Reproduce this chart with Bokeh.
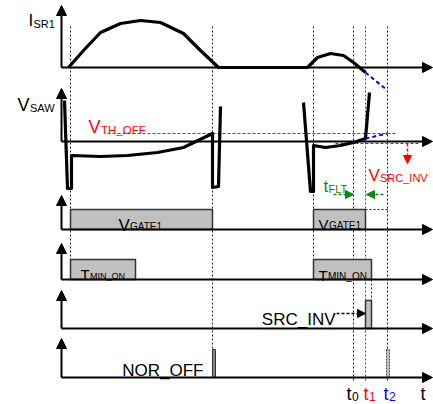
from bokeh.plotting import figure
from bokeh.models import ColumnDataSource, Arrow, NormalHead, Range1d, Label
from bokeh.embed import file_html
from bokeh.resources import INLINE

W, H = 433, 404
FONT = "Liberation Sans"
RED = "#ff0000"
BLUE = "#0000ff"
GREEN = "#118811"
GRAY = "#c0c0c0"

# ---- event instants (horizontal positions) ----
t_start1 = 70
t_end1 = 212
t_start2 = 313
t0 = 353
t1 = 365
t2 = 387
tmin_end1 = 135
tmin_end2 = 371
axis_x = 61
axis_end = 432
top_guide = 26
guide_bottom = 380

# ---- rows: baseline and axis-tip levels ----
row_base = [67, 141, 229, 279, 328, 377]
row_tip = [5, 88, 195, 243, 290, 338]

# ---- I_SR1 waveform ----
isr1_x = [68, 83, 100, 120, 140, 160, 183, 200, 218, 307, 317, 330, 343, 353, 365]
isr1_y = [67, 50, 32, 23, 20, 22, 33, 50, 67, 67, 57, 53, 55, 62, 72]
isr1_ext_x = [365, 387]
isr1_ext_y = [72, 90]

# ---- V_SAW waveform ----
vsaw1_x = [64, 67, 71, 71, 100, 127, 157, 183, 212, 212, 218, 220]
vsaw1_y = [100, 188, 188, 155, 156, 155, 152, 147, 133, 187, 186, 106]
vsaw2_x = [303, 310, 313, 313, 325, 340, 353, 365, 369]
vsaw2_y = [102, 191, 191, 145, 147, 145, 142, 138, 92]
vsaw_ext_x = [365, 387]
vsaw_ext_y = [138, 133]
v_th_off = 133
v_th_off_x = [107, 397]
v_src_inv = 143
v_src_inv_x = [335, 418]
v_src_arrow_x = 407
v_src_arrow_tip = 163

# ---- logic signals ----
gate_left = [t_start1, t_start2]
gate_right = [t_end1, t1]
gate_top = 209
tmin_left = [t_start1, t_start2]
tmin_right = [tmin_end1, tmin_end2]
tmin_top = 259
src_left = [t1]
src_right = [tmin_end2]
src_top = 300
nor_left = [t_end1]
nor_right = [t_end1 + 3]
nor_top = 349
nor2_left = [t2 - 1]
nor2_right = [t2 + 2]

# ---- labels: main letter + subscript ----
main_text = ["I", "V", "V", "V", "V", "T", "T", "V", "t", "t", "t", "t", "t"]
main_x = [28, 17, 88, 118, 318, 80, 318, 368, 323, 346, 363, 383, 420]
main_y = [20, 104, 126, 225, 224, 274, 275, 175, 186, 393, 393, 393, 393]
main_size = ["17px", "18px", "18px", "17px", "15px", "15px", "15px", "17px", "17px",
             "18px", "18px", "18px", "18px"]
main_color = ["black", "black", RED, "black", "black", "black", "black", RED, GREEN,
              "black", RED, BLUE, "black"]
sub_text = ["SR1", "SAW", "TH_OFF", "GATE1", "GATE1", "MIN_ON", "MIN_ON", "SRC_INV",
            "FLT", "0", "1", "2"]
sub_x = [33, 29.5, 100.5, 129.5, 328.5, 89.5, 327.5, 379.5, 328, 351.5, 368.5, 388.5]
sub_y = [23, 107, 129, 226, 225, 275, 276, 177, 188, 396, 396, 396]
sub_size = ["11px", "11px", "11.5px", "10px", "10px", "9px", "10px", "11px", "11px",
            "12px", "12px", "12px"]
sub_color = ["black", "black", RED, "black", "black", "black", "black", RED, GREEN,
             "black", RED, BLUE]
right_text = ["SRC_INV", "NOR_OFF"]
right_x = [335, 203]
right_y = [319, 370]

p = figure(width=W, height=H, output_backend="svg", toolbar_location=None,
           x_range=Range1d(0, W), y_range=Range1d(H, 0),
           x_axis_type=None, y_axis_type=None, min_border=0)
p.grid.visible = False
p.outline_line_color = None
p.background_fill_color = "white"
p.border_fill_color = "white"

# guide lines (dotted verticals)
p.segment(x0=[t_start1, t_end1, t_start2, t0], y0=[top_guide] * 4,
          x1=[t_start1, t_end1, t_start2, t0],
          y1=[tmin_top, nor_top, tmin_top, guide_bottom],
          line_color="#222222", line_width=1, line_dash="2 2")
p.segment(x0=[tmin_end2], y0=[row_base[3]], x1=[tmin_end2], y1=[src_top],
          line_color="#222222", line_width=1, line_dash="2 2")
p.segment(x0=[t1], y0=[top_guide], x1=[t1], y1=[guide_bottom], line_color=RED,
          line_width=1, line_dash="2 2")
p.segment(x0=[t2], y0=[top_guide], x1=[t2], y1=[guide_bottom], line_color=BLUE,
          line_width=1, line_dash="2 2")
p.segment(x0=[t1], y0=[gate_top], x1=[t2], y1=[gate_top], line_color=BLUE,
          line_width=1, line_dash="2 2")

# thresholds
p.line(v_th_off_x, [v_th_off] * 2, line_color=RED, line_width=1.2, line_dash="3 2")
p.line(v_src_inv_x, [v_src_inv] * 2, line_color=RED, line_width=1.2, line_dash="3 2")

# boxes
p.quad(left=gate_left, right=gate_right, top=[gate_top] * 2, bottom=[row_base[2]] * 2,
       fill_color=GRAY, line_color="#333333", line_width=1.5)
p.quad(left=tmin_left, right=tmin_right, top=[tmin_top] * 2, bottom=[row_base[3]] * 2,
       fill_color=GRAY, line_color="#333333", line_width=1.5)
p.quad(left=src_left, right=src_right, top=[src_top], bottom=[row_base[4]],
       fill_color=GRAY, line_color="#333333", line_width=1.5)
p.quad(left=nor_left, right=nor_right, top=[nor_top], bottom=[row_base[5]],
       fill_color="#888888", line_color="#333333", line_width=1)
p.quad(left=nor2_left, right=nor2_right, top=[nor_top], bottom=[row_base[5]],
       fill_color=GRAY, line_color="#555555", line_width=1, line_dash="2 1")

# axes
axis_src = ColumnDataSource(dict(
    x0=[axis_x] * 6 + [axis_x] * 6, y0=row_base + row_base,
    x1=[axis_x] * 6 + [axis_end] * 6, y1=row_tip + row_base))
p.add_layout(Arrow(end=NormalHead(size=10, fill_color="black", line_color="black", line_width=1),
                   x_start="x0", y_start="y0", x_end="x1", y_end="y1",
                   source=axis_src, line_width=2, line_color="black"))

# waveforms
p.line(isr1_x, isr1_y, line_color="black", line_width=3.2, line_join="round")
p.line(isr1_ext_x, isr1_ext_y, line_color=BLUE, line_width=2, line_dash="4 3")
p.line(vsaw1_x, vsaw1_y, line_color="black", line_width=3.2, line_join="round")
p.line(vsaw2_x, vsaw2_y, line_color="black", line_width=3.2, line_join="round")
p.line(vsaw_ext_x, vsaw_ext_y, line_color=BLUE, line_width=2, line_dash="4 3")


# dashed annotation arrows
def darrow(x0, y0, x1, y1, color):
    p.add_layout(Arrow(end=NormalHead(size=8, fill_color=color, line_color=color, line_width=1),
                       x_start=x0, y_start=y0, x_end=x1, y_end=y1,
                       line_color=color, line_width=1.5, line_dash="3 2"))


darrow(v_src_arrow_x, v_src_inv, v_src_arrow_x, v_src_arrow_tip, RED)
darrow(333, 194, t0, 194, GREEN)
darrow(t2 - 4, 194, t1 + 1, 194, GREEN)
darrow(336, 313, t1, 313, "black")


# texts as label annotations
def texts(xs, ys, ts, sizes, colors, align="left"):
    for x, y, t, s, c in zip(xs, ys, ts, sizes, colors):
        p.add_layout(Label(x=x, y=y, text=t, text_font=FONT, text_font_size=s,
                           text_color=c, text_baseline="alphabetic", text_align=align))


texts(main_x, main_y, main_text, main_size, main_color)
texts(sub_x, sub_y, sub_text, sub_size, sub_color)
texts(right_x, right_y, right_text, ["17px"] * 2, ["black"] * 2, align="right")

open("out.html", "w").write(file_html(p, INLINE))
